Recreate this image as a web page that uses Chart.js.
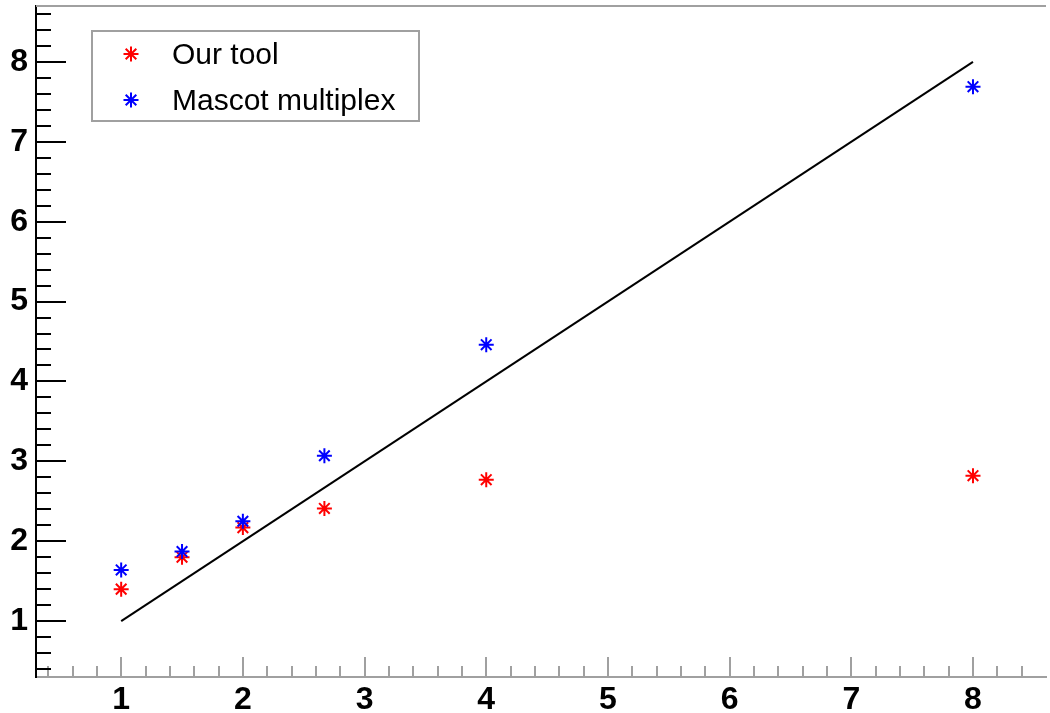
<!DOCTYPE html>
<html>
<head>
<meta charset="utf-8">
<script src="https://cdn.jsdelivr.net/npm/chart.js@4/dist/chart.umd.min.js"></script>
<style>
  body { margin: 0; background: #fff; }
</style>
</head>
<body>
<canvas id="scatterChart" width="1050" height="713"></canvas>
<script>
// values
const xValues = [1, 1.5, 2, 2.67, 4, 8];
const ourTool = [1.40, 1.80, 2.17, 2.41, 2.77, 2.82];
const mascot = [1.64, 1.87, 2.25, 3.07, 4.46, 7.69];
const diagonalX = [1, 8];
const diagonalY = [1, 8];
const xTickLabels = [1, 2, 3, 4, 5, 6, 7, 8];
const yTickLabels = [1, 2, 3, 4, 5, 6, 7, 8];
const seriesLabels = ["Our tool", "Mascot multiplex"];

function toPoints(xs, ys) {
    return xs.map(function (x, i) { return { x: x, y: ys[i] }; });
}

const labelFont = { family: "'Liberation Sans', Arial, sans-serif", size: 32, weight: "bold" };
const starSize = 7.5;

// inward tick marks (major every 1, minor every 0.2), top frame line
const ticksPlugin = {
    id: "inwardTicks",
    afterDraw: function (chart) {
        const ctx = chart.ctx;
        const area = chart.chartArea;
        const xs = chart.scales.x;
        const ys = chart.scales.y;
        ctx.save();
        ctx.lineWidth = 2;

        ctx.strokeStyle = "#a0a0a0";
        ctx.beginPath();
        ctx.moveTo(area.left, area.top);
        ctx.lineTo(area.right, area.top);
        ctx.stroke();

        ctx.beginPath();
        for (let k = Math.ceil(xs.min / 0.2); k <= Math.floor(xs.max / 0.2); k++) {
            const v = k * 0.2;
            const major = Math.abs(v - Math.round(v)) < 1e-6;
            const px = Math.round(xs.getPixelForValue(v));
            ctx.moveTo(px, area.bottom);
            ctx.lineTo(px, area.bottom - (major ? 20 : 11));
        }
        ctx.stroke();

        ctx.strokeStyle = "#000";
        ctx.beginPath();
        for (let k = Math.ceil(ys.min / 0.2); k <= Math.floor(ys.max / 0.2); k++) {
            const v = k * 0.2;
            const major = Math.abs(v - Math.round(v)) < 1e-6;
            const py = Math.round(ys.getPixelForValue(v));
            ctx.moveTo(area.left, py);
            ctx.lineTo(area.left + (major ? 30 : 15), py);
        }
        ctx.stroke();
        ctx.restore();
    }
};

// boxed legend in the upper left
const legendPlugin = {
    id: "boxLegend",
    afterDraw: function (chart) {
        const ctx = chart.ctx;
        ctx.save();
        ctx.fillStyle = "#fff";
        ctx.fillRect(92, 31, 327, 90);
        ctx.strokeStyle = "#a0a0a0";
        ctx.lineWidth = 2;
        ctx.strokeRect(92, 31, 327, 90);
        [0, 1].forEach(function (i) {
            const ds = chart.data.datasets[i];
            const cy = 54 + i * 46;
            ctx.strokeStyle = ds.borderColor;
            ctx.lineWidth = 2;
            Chart.helpers.drawPoint(ctx, { pointStyle: "star", radius: starSize, borderWidth: 2 }, 131, cy);
            ctx.fillStyle = "#000";
            ctx.font = "30px 'Liberation Sans', Arial, sans-serif";
            ctx.textBaseline = "middle";
            ctx.fillText(ds.label, 172, cy + 2);
        });
        ctx.restore();
    }
};

function keepTicks(list) {
    return function (scale) {
        scale.ticks = list.map(function (v) { return { value: v }; });
    };
}

function fixSize(w, h) {
    return function (scale) {
        if (w) scale.width = w;
        if (h) scale.height = h;
        scale.paddingTop = 0;
        scale.paddingBottom = 0;
        scale.paddingLeft = 0;
        scale.paddingRight = 0;
    };
}

new Chart(document.getElementById("scatterChart"), {
    type: "scatter",
    data: {
        datasets: [
            {
                label: seriesLabels[0],
                data: toPoints(xValues, ourTool),
                borderColor: "#ff0000",
                backgroundColor: "#ff0000",
                pointStyle: "star",
                pointRadius: starSize,
                pointBorderWidth: 2,
                order: 1
            },
            {
                label: seriesLabels[1],
                data: toPoints(xValues, mascot),
                borderColor: "#0000ff",
                backgroundColor: "#0000ff",
                pointStyle: "star",
                pointRadius: starSize,
                pointBorderWidth: 2,
                order: 0
            },
            {
                type: "line",
                label: "y = x",
                data: toPoints(diagonalX, diagonalY),
                borderColor: "#000",
                borderWidth: 2,
                pointRadius: 0,
                fill: false,
                order: 2
            }
        ]
    },
    options: {
        responsive: false,
        animation: false,
        layout: { autoPadding: false, padding: { top: 6, right: 4, left: 0, bottom: 0 } },
        plugins: {
            legend: { display: false },
            tooltip: { enabled: false }
        },
        scales: {
            x: {
                type: "linear",
                min: 0.3,
                max: 8.6,
                grid: { display: false, drawTicks: false },
                border: { display: true, color: "#a0a0a0", width: 2 },
                ticks: {
                    padding: 4,
                    color: "#000",
                    font: labelFont
                },
                afterBuildTicks: keepTicks(xTickLabels),
                afterFit: fixSize(0, 36)
            },
            y: {
                type: "linear",
                min: 0.3,
                max: 8.7,
                grid: { display: false, drawTicks: false },
                border: { display: true, color: "#000", width: 2 },
                ticks: {
                    padding: 8,
                    color: "#000",
                    font: labelFont
                },
                afterBuildTicks: keepTicks(yTickLabels),
                afterFit: fixSize(36, 0)
            }
        }
    },
    plugins: [ticksPlugin, legendPlugin]
});
</script>
</body>
</html>
